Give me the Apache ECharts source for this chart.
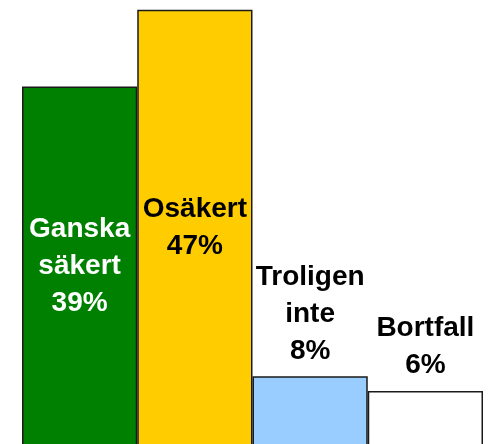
<!DOCTYPE html>
<html>
<head>
<meta charset="UTF-8">
<title>Chart</title>
<script src="https://cdn.jsdelivr.net/npm/echarts@6.0.0/dist/echarts.min.js"></script>
<style>
  html, body { margin: 0; padding: 0; background: #fff; overflow: hidden; }
  #main { width: 488px; height: 452px; }
</style>
</head>
<body>
<div id="main"></div>
<script>
  // data
  var categories = ['Ganska\nsäkert', 'Osäkert', 'Troligen\ninte', 'Bortfall'];
  var values = [39.0, 47.3, 7.6, 6.0];
  var shownPct = ['39%', '47%', '8%', '6%'];
  var barColors = ['#008000', '#FFCC00', '#99CCFF', '#FFFFFF'];
  var labelColors = ['#FFFFFF', '#000000', '#000000', '#000000'];
  var labelInside = [true, true, false, false];

  var chart = echarts.init(document.getElementById('main'));

  var data = values.map(function (v, i) {
    return {
      value: v,
      itemStyle: { color: barColors[i] },
      label: {
        position: labelInside[i] ? 'inside' : 'top',
        distance: 7,
        color: labelColors[i],
        formatter: categories[i] + '\n' + shownPct[i]
      }
    };
  });

  chart.setOption({
    animation: false,
    backgroundColor: '#FFFFFF',
    // plot runs past the bottom of the window, like the cropped original
    grid: { left: 22, right: 5, top: 3.4, bottom: 5.5 },
    xAxis: {
      type: 'category',
      data: categories,
      show: false
    },
    yAxis: {
      type: 'value',
      min: 0,
      max: 48,
      show: false,
      splitLine: { show: false }
    },
    series: [{
      type: 'bar',
      data: data,
      barCategoryGap: 0,
      itemStyle: { borderColor: '#1a1a1a', borderWidth: 1.5 },
      label: {
        show: true,
        fontFamily: 'Liberation Sans, Arial, sans-serif',
        fontWeight: 'bold',
        fontSize: 28,
        lineHeight: 37,
        align: 'center'
      }
    }]
  });
</script>
</body>
</html>
